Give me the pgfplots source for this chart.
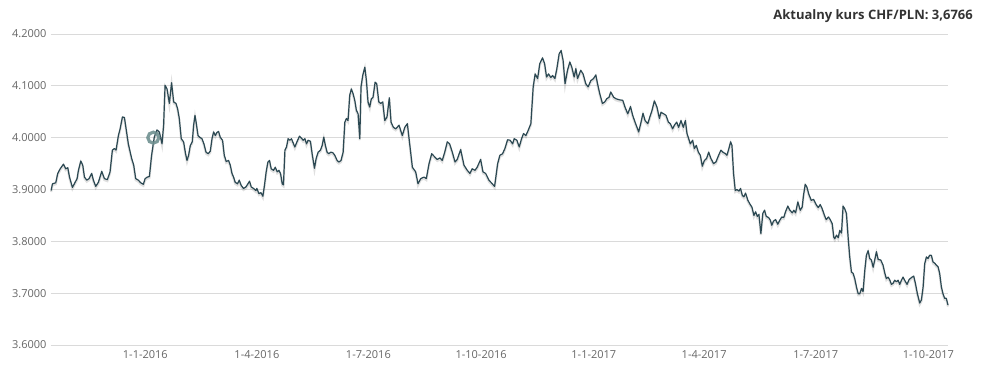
\documentclass[border=0pt]{standalone}
\usepackage{pgfplots}
\pgfplotsset{compat=1.18}
\usepackage{pgfplotstable}
\usepackage{fontspec}
\setmainfont{Open Sans}
\definecolor{linec}{HTML}{2B4852}
\definecolor{gridc}{HTML}{DADADA}
\definecolor{tickc}{HTML}{666666}
\definecolor{titlec}{HTML}{333333}
\definecolor{markc}{HTML}{6F9090}
% day = days since 1 Jan 2016, val = CHF/PLN rate
\pgfplotstableread{
day val
-76.9 3.898
-75.8 3.911
-73.1 3.913
-71.5 3.931
-69.5 3.940
-66.8 3.949
-65.0 3.940
-63.3 3.942
-61.9 3.924
-59.5 3.904
-57.3 3.914
-55.7 3.921
-54.6 3.937
-52.7 3.955
-51.1 3.947
-49.7 3.924
-47.8 3.918
-45.9 3.921
-43.8 3.931
-42.4 3.918
-40.5 3.906
-38.3 3.914
-35.6 3.935
-33.4 3.921
-31.0 3.919
-28.8 3.934
-26.9 3.976
-25.3 3.979
-23.9 3.976
-22.0 4.004
-20.6 4.017
-18.7 4.040
-17.1 4.039
-15.7 4.017
-13.9 3.988
-11.2 3.960
-9.5 3.947
-7.9 3.921
-5.7 3.918
-3.8 3.913
-1.6 3.910
-0.2 3.921
1.6 3.924
3.3 3.925
5.1 3.966
7.3 4.001
9.5 4.015
11.4 4.011
13.6 3.988
14.9 4.024
16.1 4.101
17.7 4.094
19.6 4.066
21.4 4.106
23.1 4.069
25.0 4.066
26.3 4.056
27.7 4.037
29.3 3.998
31.2 3.992
32.8 3.969
34.0 3.956
35.3 3.966
36.7 3.985
38.3 3.992
39.4 4.024
40.5 4.043
41.6 4.027
43.0 4.004
44.3 4.001
46.2 3.998
47.8 3.988
49.5 3.972
51.3 3.969
53.0 3.974
54.4 3.998
55.7 4.011
57.1 4.004
58.4 4.010
59.7 4.012
61.1 4.001
63.0 3.995
64.4 3.966
66.0 3.954
67.9 3.956
69.3 3.947
70.7 3.931
72.0 3.924
73.3 3.914
75.2 3.911
76.6 3.918
78.2 3.908
80.1 3.902
82.1 3.905
83.7 3.911
85.0 3.916
86.4 3.905
88.3 3.902
90.2 3.898
91.0 3.902
92.7 3.892
94.3 3.894
95.9 3.887
97.2 3.908
98.6 3.934
100.0 3.953
101.3 3.956
102.7 3.940
104.6 3.937
106.0 3.943
107.6 3.934
109.0 3.937
110.3 3.931
111.7 3.911
112.7 3.909
113.9 3.976
115.2 3.982
116.5 3.998
117.9 3.995
119.2 3.998
120.6 3.990
122.0 3.982
123.9 3.993
125.8 4.003
127.4 3.999
128.8 3.995
130.2 3.998
131.5 3.988
132.8 3.995
134.7 3.993
136.1 3.969
138.0 3.941
139.4 3.960
141.0 3.972
142.9 3.976
144.3 3.985
145.6 4.001
146.9 3.985
148.3 3.972
149.7 3.969
151.3 3.972
153.0 3.971
154.6 3.966
156.5 3.956
157.9 3.953
159.7 3.956
161.4 3.972
162.8 4.030
164.1 4.037
165.4 4.033
166.8 4.082
168.1 4.094
169.5 4.085
170.9 4.072
172.2 4.053
173.6 4.046
175.0 3.998
176.0 4.098
177.4 4.120
179.1 4.136
180.4 4.110
181.7 4.069
183.1 4.059
184.4 4.075
185.8 4.078
187.5 4.107
188.8 4.104
190.5 4.069
192.1 4.066
193.7 4.069
195.4 4.033
197.2 4.040
199.1 4.077
200.5 4.030
202.4 4.020
204.3 4.017
207.0 4.024
209.7 4.004
211.7 4.020
213.8 4.027
216.0 3.982
217.9 3.943
220.6 3.934
222.5 3.911
224.7 3.921
227.4 3.924
229.3 3.921
231.5 3.950
233.7 3.969
236.1 3.963
238.2 3.958
240.4 3.961
242.3 3.956
244.3 3.972
246.4 3.992
248.3 3.988
250.5 3.972
252.7 3.953
254.5 3.958
257.3 3.977
260.0 3.947
262.7 3.937
264.9 3.931
266.7 3.940
269.0 3.937
270.8 3.943
273.6 3.958
275.5 3.934
277.7 3.931
280.4 3.918
283.1 3.911
285.0 3.906
287.5 3.950
289.3 3.966
291.5 3.969
293.4 3.979
295.6 3.996
297.7 3.995
299.7 3.988
301.0 3.998
303.2 3.995
305.1 3.982
307.0 3.998
308.6 4.008
310.5 4.004
312.4 4.014
314.6 4.027
316.5 4.098
318.1 4.123
320.1 4.114
321.9 4.143
324.1 4.154
325.8 4.143
327.4 4.117
329.0 4.123
330.9 4.116
332.3 4.120
334.2 4.114
335.8 4.133
337.7 4.162
339.3 4.168
340.9 4.149
342.5 4.104
344.5 4.130
346.4 4.146
348.0 4.136
349.9 4.117
351.3 4.133
352.7 4.114
355.3 4.130
357.2 4.123
359.4 4.104
361.3 4.098
363.5 4.110
365.7 4.114
367.6 4.121
369.0 4.104
370.8 4.085
373.0 4.066
374.9 4.069
376.5 4.075
378.4 4.078
379.8 4.088
382.2 4.078
384.1 4.075
386.9 4.073
389.6 4.072
391.4 4.059
393.7 4.046
395.9 4.060
397.7 4.043
399.6 4.030
401.2 4.020
402.6 4.011
404.5 4.030
406.1 4.047
407.8 4.033
410.0 4.027
412.1 4.043
413.5 4.053
415.4 4.071
417.5 4.059
419.5 4.037
420.8 4.049
423.0 4.046
424.9 4.043
426.8 4.030
428.4 4.027
430.3 4.017
431.7 4.024
433.6 4.030
435.2 4.020
437.1 4.033
439.0 4.020
440.7 4.033
442.0 4.008
443.4 3.998
444.7 3.988
446.6 3.995
448.0 3.979
449.6 3.985
451.3 3.972
452.9 3.966
454.5 3.945
456.2 3.956
458.0 3.960
459.7 3.972
461.5 3.960
463.7 3.950
465.6 3.953
467.8 3.966
469.7 3.976
471.3 3.972
473.5 3.969
474.6 3.966
476.2 3.979
477.6 3.992
478.7 3.985
480.0 3.931
481.4 3.898
482.7 3.900
484.4 3.897
485.7 3.902
487.1 3.889
488.4 3.886
489.8 3.893
491.7 3.879
493.6 3.871
495.0 3.866
496.6 3.850
498.0 3.857
499.4 3.848
500.7 3.852
502.3 3.815
503.9 3.854
505.3 3.860
506.7 3.848
508.6 3.846
510.0 3.841
511.2 3.831
512.6 3.839
514.3 3.842
516.1 3.833
517.8 3.841
519.4 3.847
521.0 3.846
522.4 3.857
524.3 3.868
525.7 3.861
527.9 3.855
529.2 3.860
530.6 3.855
532.5 3.876
534.4 3.860
536.0 3.866
537.1 3.889
538.5 3.910
539.8 3.905
541.4 3.891
543.4 3.879
545.3 3.881
547.4 3.871
549.1 3.865
550.7 3.871
552.3 3.863
554.2 3.850
555.6 3.842
557.5 3.847
559.1 3.841
560.5 3.834
561.8 3.808
562.6 3.805
564.0 3.812
565.4 3.807
566.7 3.821
568.1 3.816
569.4 3.868
570.7 3.863
572.1 3.854
573.5 3.808
574.8 3.770
576.2 3.741
577.6 3.738
578.9 3.728
580.3 3.712
581.7 3.699
583.0 3.699
584.4 3.709
585.7 3.703
587.1 3.744
588.4 3.773
589.8 3.782
591.1 3.767
592.5 3.764
593.9 3.750
595.2 3.764
596.6 3.780
598.0 3.765
600.1 3.764
602.0 3.754
603.4 3.739
604.7 3.728
606.1 3.731
607.4 3.726
608.8 3.717
610.2 3.719
611.5 3.725
612.9 3.722
614.3 3.725
615.6 3.717
617.0 3.725
618.3 3.731
619.6 3.725
621.6 3.717
623.2 3.726
625.1 3.730
627.0 3.733
628.4 3.719
630.0 3.699
631.9 3.681
633.3 3.687
634.7 3.712
636.0 3.757
637.4 3.770
638.7 3.767
640.0 3.773
641.4 3.773
642.8 3.760
644.1 3.758
645.5 3.754
646.9 3.751
648.2 3.738
649.6 3.712
650.9 3.699
652.3 3.690
653.6 3.690
655.0 3.677
}\rates
\begin{document}
\begin{tikzpicture}[x=1pt,y=1pt]
\path[use as bounding box] (0,0) rectangle (985,379);
\begin{axis}[
  at={(51pt,34pt)}, anchor=south west,
  width=897pt, height=311pt, scale only axis,
  xmin=-77, xmax=655, ymin=3.6, ymax=4.2,
  axis line style={draw=none},
  major tick length=0pt,
  ytick={3.6,3.7,3.8,3.9,4.0,4.1,4.2},
  xtick={0,91,182,274,366,456,547,639},
  xticklabels={1-1-2016,1-4-2016,1-7-2016,1-10-2016,1-1-2017,1-4-2017,1-7-2017,1-10-2017},
  ymajorgrids,
  grid style={gridc, line width=0.9pt},
  /pgf/number format/assume math mode=true,
  yticklabel style={/pgf/number format/fixed, /pgf/number format/fixed zerofill, /pgf/number format/precision=4, xshift=-1pt},
  tick label style={color=tickc, font=\fontsize{11}{13}\selectfont},
  xticklabel style={yshift=-2pt},
  clip=false,
]
\addplot[black, opacity=0.12, line width=2.2pt, yshift=-1.5pt] table[x=day, y=val] {\rates};
\addplot[linec, line width=1.2pt, line join=round] table[x=day, y=val] {\rates};
\addplot[only marks, mark=o, mark size=5.5pt, mark options={draw=markc, line width=3.2pt, opacity=0.9}] coordinates {(6.5,4.000)};
\end{axis}
\node[anchor=north east, inner sep=0pt, font=\bfseries\fontsize{13}{15}\selectfont, color=titlec] at (973pt,370pt) {Aktualny kurs CHF/PLN: 3,6766};
\end{tikzpicture}
\end{document}
